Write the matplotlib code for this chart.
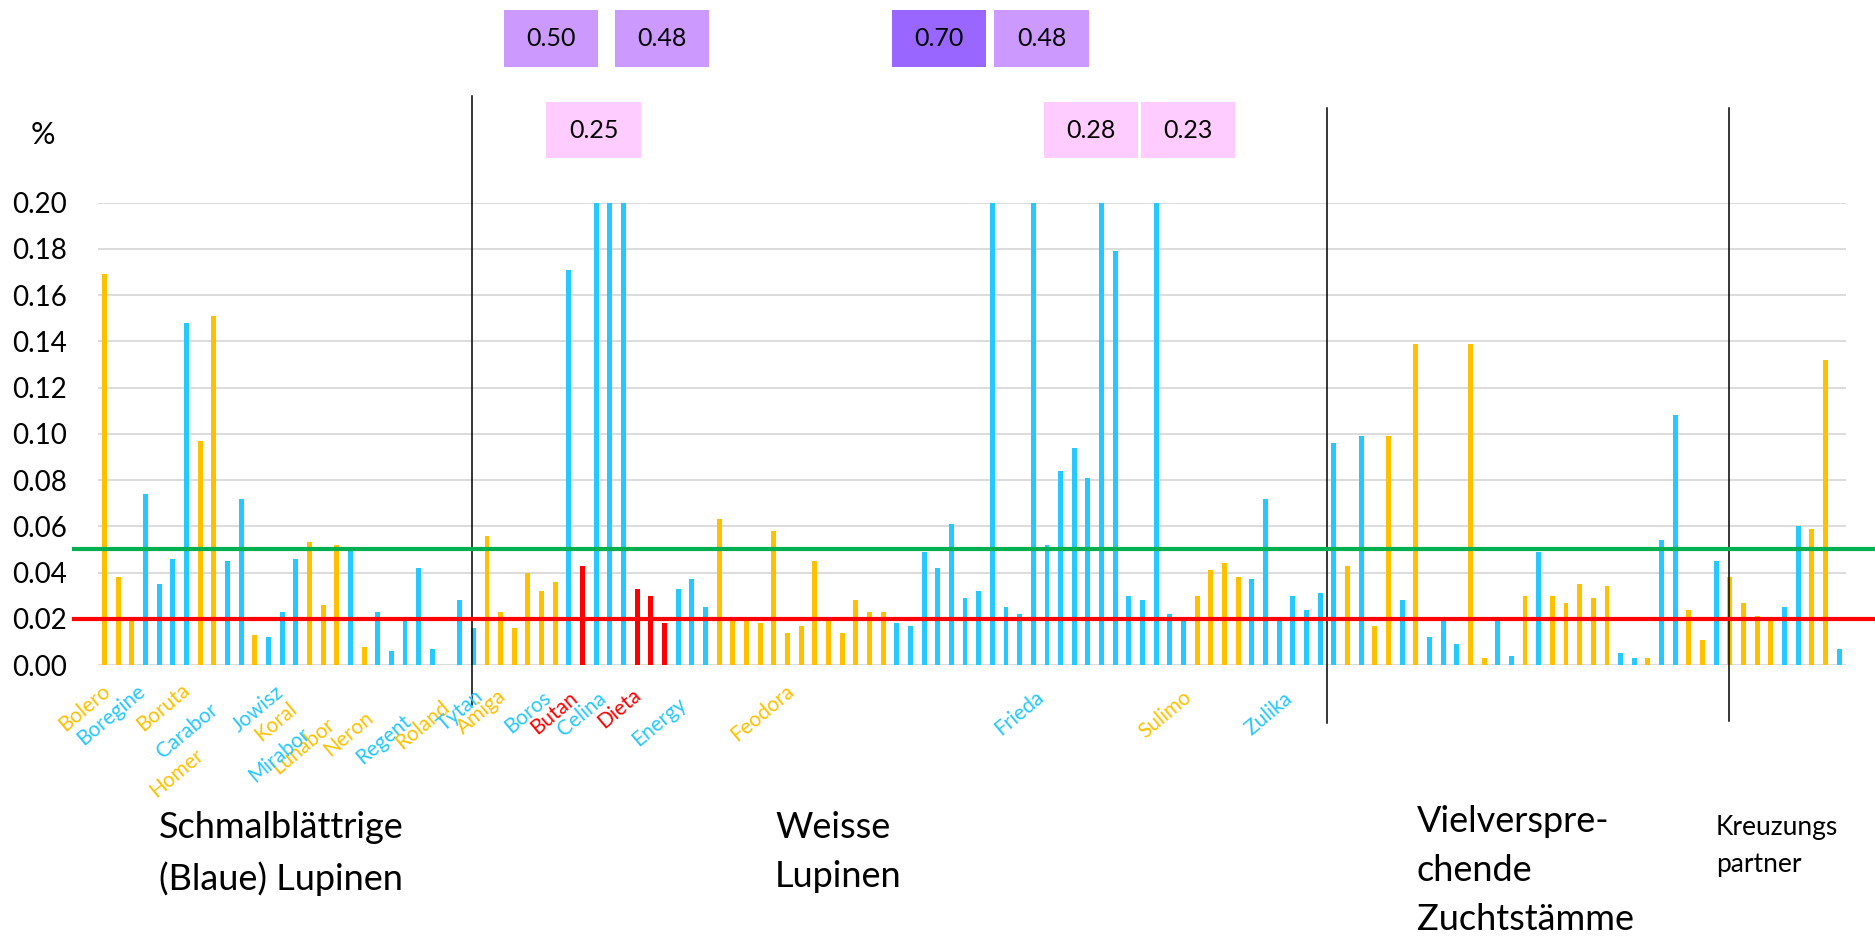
import matplotlib
matplotlib.use("Agg")
import matplotlib.pyplot as plt
import matplotlib.transforms as mtransforms
from matplotlib.lines import Line2D
from matplotlib.patches import Rectangle

plt.rcParams["font.family"] = ["Lato", "DejaVu Sans"]

# ── data: one value per variety slot, colour code O=orange, B=blue, R=red ──
schmal_vals = [0.169, 0.038, 0.019, 0.074, 0.035, 0.046, 0.148, 0.097, 0.151, 0.045,
               0.072, 0.013, 0.012, 0.023, 0.046, 0.053, 0.026, 0.052, 0.050, 0.008,
               0.023, 0.006, 0.019, 0.042, 0.007, 0.0, 0.028, 0.016]
schmal_kind = "OOOBBBBOOBBOBBBOOOBOBBBBBBBB"

weiss_vals = [0.056, 0.023, 0.016, 0.040, 0.032, 0.036, 0.171, 0.043, 0.50, 0.25,
              0.48, 0.033, 0.030, 0.018, 0.033, 0.037, 0.025, 0.063, 0.020, 0.020,
              0.018, 0.058, 0.014, 0.017, 0.045, 0.020, 0.014, 0.028, 0.023, 0.023,
              0.018, 0.017, 0.049, 0.042, 0.061, 0.029, 0.032, 0.70, 0.025, 0.022,
              0.48, 0.052, 0.084, 0.094, 0.081, 0.28, 0.179, 0.030, 0.028, 0.23,
              0.022, 0.019, 0.030, 0.041, 0.044, 0.038, 0.037, 0.072, 0.019, 0.030,
              0.024, 0.031]
weiss_kind = "OOOOOOBRBBBRRRBBB" + "O" * 13 + "B" * 22 + "OOOO" + "B" * 6

zucht_vals = [0.096, 0.043, 0.099, 0.017, 0.099, 0.028, 0.139, 0.012, 0.019, 0.009,
              0.139, 0.003, 0.019, 0.004, 0.030, 0.049, 0.030, 0.027, 0.035, 0.029,
              0.034, 0.005, 0.003, 0.003, 0.054, 0.108, 0.024, 0.011, 0.045]
zucht_kind = "BOBOOBOBBBOOBBOBOOOOOBBOBBOOB"

kreuz_vals = [0.038, 0.027, 0.021, 0.019, 0.025, 0.060, 0.059, 0.132, 0.007]
kreuz_kind = "OOOOBBOOB"

values = schmal_vals + weiss_vals + zucht_vals + kreuz_vals
kinds = schmal_kind + weiss_kind + zucht_kind + kreuz_kind

# variety names shown below the axis and their colour codes
names = ["Bolero", "Boregine", "Boruta", "Carabor", "Homer", "Jowisz", "Koral",
         "Lunabor", "Mirabor", "Neron", "Regent", "Roland", "Tytan",
         "Amiga", "Boros", "Butan", "Celina", "Dieta", "Energy", "Feodora",
         "Frieda", "Sulimo", "Zulika"]
name_kind = "OBOBOBOOBOBOB" + "OBRBRBO" + "BOB"

groups = ["Schmalblättrige\n(Blaue) Lupinen", "Weisse\nLupinen",
          "Vielverspre-\nchende\nZuchtstämme", "Kreuzungs\npartner"]

limit_green = 0.05
limit_red = 0.02

# ── layout (pixels of the 1875x944 canvas) ──
W, H = 1875, 944
label_xy = [(84, 708), (111, 715), (163, 707), (187, 731), (177, 773), (258, 709),
            (276, 722), (303, 746), (279, 755), (348, 734), (384, 739), (423, 725),
            (460, 710), (482, 712), (528, 712), (554, 713), (582, 714), (619, 708),
            (659, 722), (762, 713), (1019, 713), (1165, 715), (1269, 714)]
# box centre in slot units and row (0 = top row)
box_pos = {36: (32.7, 0), 37: (35.8, 1), 38: (40.8, 0), 65: (61.1, 0),
           68: (68.6, 0), 73: (72.25, 1), 77: (79.35, 1)}
box_rows = [(10, 67), (102, 158)]
sep_lines = [(26.9, 96, 705), (89.5, 108, 723), (118.9, 108, 721)]
group_xy = [(159, 811, 26), (775, 811, 26), (1417, 805, 26), (1716, 815, 19)]

col = {"O": "#FFC000", "B": "#25C8FF", "R": "#FF0000"}

fig = plt.figure(figsize=(W / 100, H / 100), dpi=100)
ax = fig.add_axes([97.7 / W, 1 - 665 / H, (1846 - 97.7) / W, (665 - 202.7) / H])

x = list(range(len(values)))
ax.bar(x, values, width=0.36, color=[col[k] for k in kinds], zorder=2)
ax.set_xlim(-0.5, len(values) - 0.5)
ax.set_ylim(0, 0.20)
yt = [i * 0.02 for i in range(11)]
ax.set_yticks(yt)
ax.set_yticklabels([f"{v:.2f}" for v in yt], fontsize=20)
ax.tick_params(axis="y", length=0, pad=22)
ax.set_xticks([])
ax.yaxis.grid(True, color="#D9D9D9", lw=1.3, zorder=0)
for s in ax.spines.values():
    s.set_visible(False)

# threshold lines run across the full width
tr_h = mtransforms.blended_transform_factory(fig.transFigure, ax.transData)
for yv, c in [(limit_green, "#00B050"), (limit_red, "#FF0000")]:
    fig.add_artist(Line2D([74 / W, 1.0], [yv, yv], transform=tr_h, color=c, lw=3, zorder=5))

# group separators
tr_v = mtransforms.blended_transform_factory(ax.transData, fig.transFigure)
for xs, y0, y1 in sep_lines:
    fig.add_artist(Line2D([xs, xs], [1 - y0 / H, 1 - y1 / H], transform=tr_v, color="black", lw=1.1))

# off-scale values shown in boxes
for i, (cx, row) in box_pos.items():
    v = values[i]
    fc = "#9966FF" if v >= 0.6 else ("#CC99FF" if v >= 0.4 else "#FFCCFF")
    top, bot = box_rows[row]
    fig.add_artist(Rectangle((cx - 3.45, 1 - bot / H), 6.9, (bot - top) / H,
                             transform=tr_v, facecolor=fc, edgecolor="none"))
    fig.text(cx, 1 - (top + bot) / 2 / H, f"{v:.2f}", fontsize=18,
             ha="center", va="center", transform=tr_v)

fig.text(43 / W, 1 - 135 / H, "%", fontsize=22, ha="center", va="center")

for nm, k, (lx, ly) in zip(names, name_kind, label_xy):
    fig.text(lx / W, 1 - ly / H, nm, fontsize=15, color=col[k], rotation=40,
             ha="center", va="center", rotation_mode="anchor")

for g, (gx, gy, fs) in zip(groups, group_xy):
    fig.text(gx / W, 1 - gy / H, g, fontsize=fs, ha="left", va="top", linespacing=1.6)

fig.savefig("out.png", dpi=100)
